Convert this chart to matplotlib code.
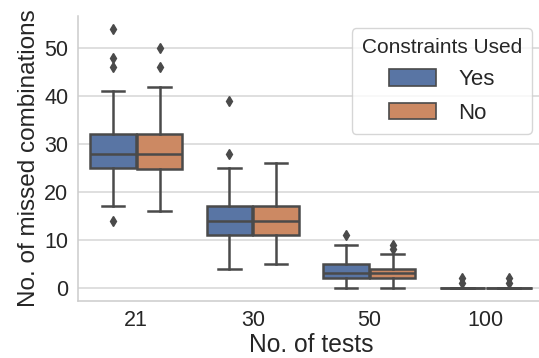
import colorsys
import matplotlib
matplotlib.use("Agg")
import matplotlib.pyplot as plt
import matplotlib.colors as mcolors
from matplotlib.patches import Patch

categories = ["21", "30", "50", "100"]
hues = ["Yes", "No"]

# box statistics per hue, per category
med = {"Yes": [28, 14, 3, 0], "No": [28, 14, 3, 0]}
q1 = {"Yes": [25, 11, 2, 0], "No": [24.75, 11, 2, 0]}
q3 = {"Yes": [32, 17, 5, 0], "No": [32, 17, 4, 0]}
whislo = {"Yes": [17, 4, 0, 0], "No": [16, 5, 0, 0]}
whishi = {"Yes": [41, 25, 9, 0], "No": [42, 26, 7, 0]}
fliers = {
    "Yes": [[54, 48, 46, 14], [39, 28], [11], [1, 2]],
    "No": [[50, 46], [], [8, 9], [1, 2]],
}

def desat(c, p=0.75):
    r, g, b = mcolors.to_rgb(c)
    h, l, s = colorsys.rgb_to_hls(r, g, b)
    return colorsys.hls_to_rgb(h, l, s * p)

colors = {"Yes": desat("#4C72B0"), "No": desat("#DD8452")}
line_c = "#4a4a4a"

plt.rcParams["font.family"] = ["Liberation Sans", "DejaVu Sans"]
fig = plt.figure(figsize=(5.39, 3.58), dpi=100)
ax = fig.add_axes([0.1447, 0.160, 0.8646, 0.795])

width = 0.8 / len(hues)
for hi, h in enumerate(hues):
    stats = []
    for ci in range(len(categories)):
        stats.append(dict(med=med[h][ci], q1=q1[h][ci], q3=q3[h][ci],
                          whislo=whislo[h][ci], whishi=whishi[h][ci],
                          fliers=fliers[h][ci]))
    pos = [ci - 0.4 + width * (hi + 0.5) for ci in range(len(categories))]
    ax.bxp(stats, positions=pos, widths=width * 0.98, patch_artist=True,
           manage_ticks=False,
           boxprops=dict(facecolor=colors[h], edgecolor=line_c, linewidth=1.8),
           medianprops=dict(color=line_c, linewidth=1.8),
           whiskerprops=dict(color=line_c, linewidth=1.8),
           capprops=dict(color=line_c, linewidth=1.8),
           flierprops=dict(marker="d", markerfacecolor=line_c, markeredgecolor=line_c,
                           markersize=5))

ax.set_xlim(-0.5, len(categories) - 0.5)
ax.set_ylim(-2.7, 56.7)
ax.set_xticks(range(len(categories)))
ax.set_xticklabels(categories)
ax.set_yticks([0, 10, 20, 30, 40, 50])
ax.tick_params(axis="both", labelsize=15.5, length=0, pad=7, colors="#262626")
ax.grid(axis="y", color="#d6d6d6", linewidth=1.1)
ax.set_axisbelow(True)
for s in ["top", "right"]:
    ax.spines[s].set_visible(False)
for s in ["left", "bottom"]:
    ax.spines[s].set_color("#cccccc")
    ax.spines[s].set_linewidth(1.1)
ax.set_xlabel("No. of tests", fontsize=17.7, color="#262626", labelpad=1)
ax.set_ylabel("No. of missed combinations", fontsize=17.5, color="#262626", labelpad=3)

handles = [Patch(facecolor=colors[h], edgecolor=line_c, linewidth=1.2, label=h) for h in hues]
leg = ax.legend(handles=handles, title="Constraints Used", loc="upper right",
                bbox_to_anchor=(0.974, 0.958), borderaxespad=0, fontsize=16,
                title_fontsize=15, frameon=True, handlelength=2.1, handleheight=0.75,
                borderpad=0.45, labelspacing=0.55, handletextpad=1.0)
leg.get_frame().set_edgecolor("#cccccc")
leg.get_title().set_color("#262626")
for t in leg.get_texts():
    t.set_color("#262626")

fig.savefig("out.png", dpi=100)
